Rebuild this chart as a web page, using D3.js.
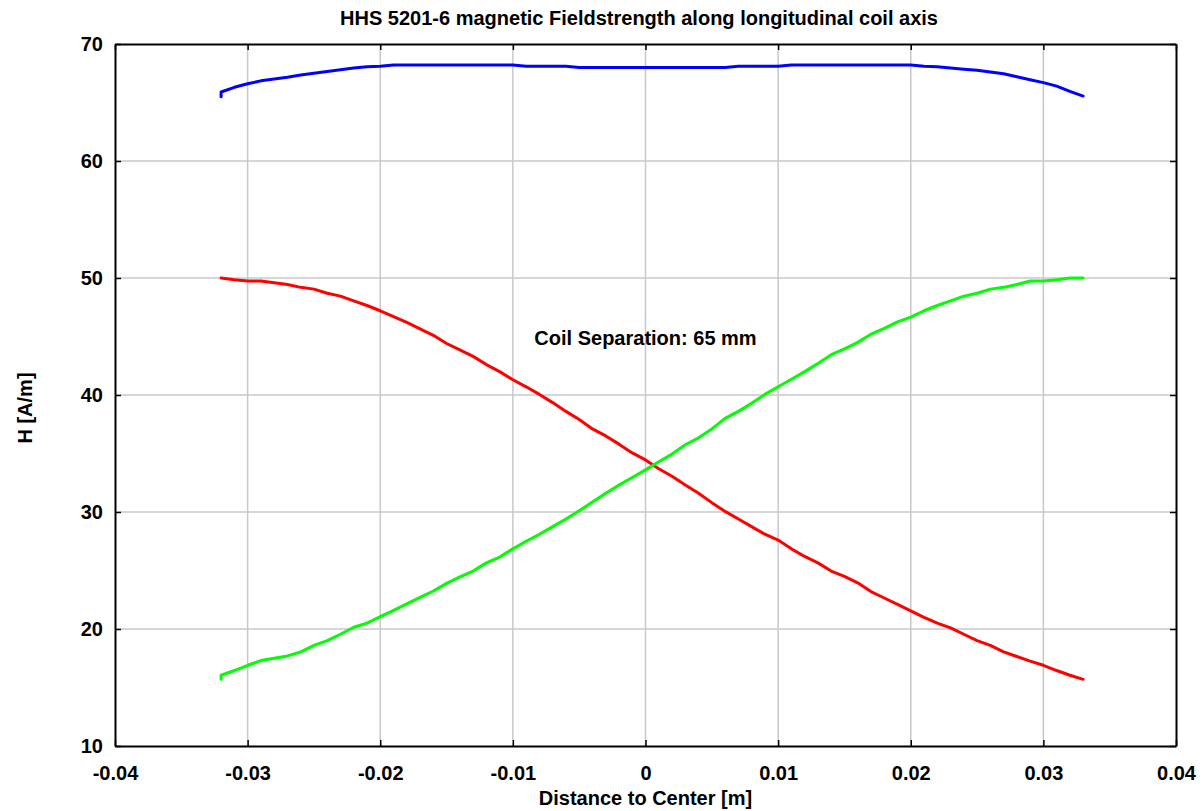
<!DOCTYPE html>
<html><head><meta charset="utf-8">
<script src="https://cdn.jsdelivr.net/npm/d3@7"></script>
<style>body{margin:0;background:#fff}svg{display:block}text{font-family:"Liberation Sans",Arial,sans-serif;font-weight:bold}</style>
</head><body>
<svg id="c" width="1204" height="811"></svg>
<script>
const title = "HHS 5201-6 magnetic Fieldstrength along longitudinal coil axis";
const xLabel = "Distance to Center [m]";
const yLabel = "H [A/m]";
const note = "Coil Separation: 65 mm";
const xTicks = [-0.04,-0.03,-0.02,-0.01,0,0.01,0.02,0.03,0.04];
const yTicks = [10,20,30,40,50,60,70];
// positions in mm along axis (first point repeated = start hook)
const xs = [-32,-32,-31,-30,-29,-28,-27,-26,-25,-24,-23,-22,-21,-20,-19,-18,-17,-16,-15,-14,-13,-12,-11,-10,-9,-8,-7,-6,-5,-4,-3,-2,-1,0,1,2,3,4,5,6,7,8,9,10,11,12,13,14,15,16,17,18,19,20,21,22,23,24,25,26,27,28,29,30,31,32,33];
const hSum = [65.5,65.9,66.3,66.6,66.85,67.0,67.15,67.35,67.5,67.65,67.8,67.95,68.05,68.1,68.2,68.2,68.2,68.2,68.2,68.2,68.2,68.2,68.2,68.2,68.1,68.1,68.1,68.1,68.0,68.0,68.0,68.0,68.0,68.0,68.0,68.0,68.0,68.0,68.0,68.0,68.1,68.1,68.1,68.1,68.2,68.2,68.2,68.2,68.2,68.2,68.2,68.2,68.2,68.2,68.1,68.05,67.95,67.85,67.75,67.6,67.45,67.2,66.95,66.7,66.4,65.95,65.55];
const hCoil1 = [50.0,50.0,49.85,49.75,49.75,49.6,49.45,49.2,49.05,48.7,48.45,48.05,47.65,47.2,46.7,46.2,45.65,45.1,44.4,43.85,43.3,42.6,42.0,41.3,40.7,40.05,39.35,38.6,37.9,37.1,36.5,35.8,35.05,34.45,33.7,33.05,32.3,31.6,30.8,30.05,29.4,28.75,28.1,27.6,26.85,26.2,25.65,24.95,24.5,23.95,23.2,22.65,22.1,21.55,21.0,20.5,20.1,19.55,19.0,18.6,18.05,17.65,17.25,16.9,16.45,16.05,15.7];
const hCoil2 = [15.7,16.05,16.45,16.9,17.3,17.5,17.7,18.05,18.6,19.0,19.55,20.15,20.5,21.05,21.6,22.15,22.7,23.25,23.9,24.45,24.95,25.65,26.15,26.85,27.5,28.1,28.75,29.4,30.1,30.85,31.6,32.3,32.95,33.6,34.3,34.95,35.75,36.35,37.1,38.0,38.6,39.3,40.05,40.7,41.35,42.0,42.7,43.45,43.95,44.5,45.2,45.7,46.25,46.65,47.2,47.65,48.05,48.45,48.7,49.05,49.2,49.45,49.75,49.75,49.85,50.0,50.0];

const svg = d3.select("#c");
const L=115, R=1176, T=44, B=746;
const FS = 20;
const x = d3.scaleLinear().domain([-0.04,0.04]).range([L,R]);
const y = d3.scaleLinear().domain([10,70]).range([B,T]);
const fmt = d => d===0 ? "0" : String(+d.toFixed(2));

// grid
svg.append("g").selectAll("line").data(xTicks.slice(1,-1)).join("line")
  .attr("x1",d=>x(d)).attr("x2",d=>x(d)).attr("y1",T).attr("y2",B)
  .attr("stroke","#c8c8c8").attr("stroke-width",1.5);
svg.append("g").selectAll("line").data(yTicks.slice(1,-1)).join("line")
  .attr("y1",d=>y(d)).attr("y2",d=>y(d)).attr("x1",L).attr("x2",R)
  .attr("stroke","#c8c8c8").attr("stroke-width",1.5);

// axes
const axB = svg.append("g").attr("transform",`translate(0,${B})`)
  .call(d3.axisBottom(x).tickValues(xTicks).tickFormat(fmt).tickSizeInner(-6).tickSizeOuter(0).tickPadding(20));
const axT = svg.append("g").attr("transform",`translate(0,${T})`)
  .call(d3.axisTop(x).tickValues(xTicks).tickFormat("").tickSizeInner(-6).tickSizeOuter(0));
const axL = svg.append("g").attr("transform",`translate(${L},0)`)
  .call(d3.axisLeft(y).tickValues(yTicks).tickFormat(fmt).tickSizeInner(-6).tickSizeOuter(0).tickPadding(12));
const axR = svg.append("g").attr("transform",`translate(${R},0)`)
  .call(d3.axisRight(y).tickValues(yTicks).tickFormat("").tickSizeInner(-6).tickSizeOuter(0));
[axB,axT,axL,axR].forEach(a=>{
  a.selectAll(".domain").attr("stroke","#000").attr("stroke-width",2);
  a.selectAll(".tick line").attr("stroke","#000").attr("stroke-width",1.5);
  a.selectAll("text").attr("font-size",FS).attr("fill","#000")
   .attr("font-family",'"Liberation Sans",Arial,sans-serif').attr("font-weight","bold");
});

// lines
const line = d3.line().x((d,i)=>x(xs[i]/1000)).y(d=>y(d));
[[hSum,"#0000ff"],[hCoil1,"#ff0000"],[hCoil2,"#00ff00"]].forEach(([data,c])=>{
  svg.append("path").attr("d",line(data)).attr("fill","none").attr("stroke",c)
    .attr("stroke-width",3).attr("stroke-linejoin","round").attr("stroke-linecap","round");
});

svg.append("text").attr("x",639).attr("y",25).attr("text-anchor","middle").attr("font-size",FS).text(title);
svg.append("text").attr("x",(L+R)/2).attr("y",805).attr("text-anchor","middle").attr("font-size",FS).text(xLabel);
svg.append("text").attr("transform",`translate(32,408) rotate(-90)`).attr("text-anchor","middle").attr("font-size",FS).text(yLabel);
svg.append("text").attr("x",x(0)).attr("y",y(44.27)).attr("text-anchor","middle").attr("font-size",FS).text(note);
</script>
</body></html>
